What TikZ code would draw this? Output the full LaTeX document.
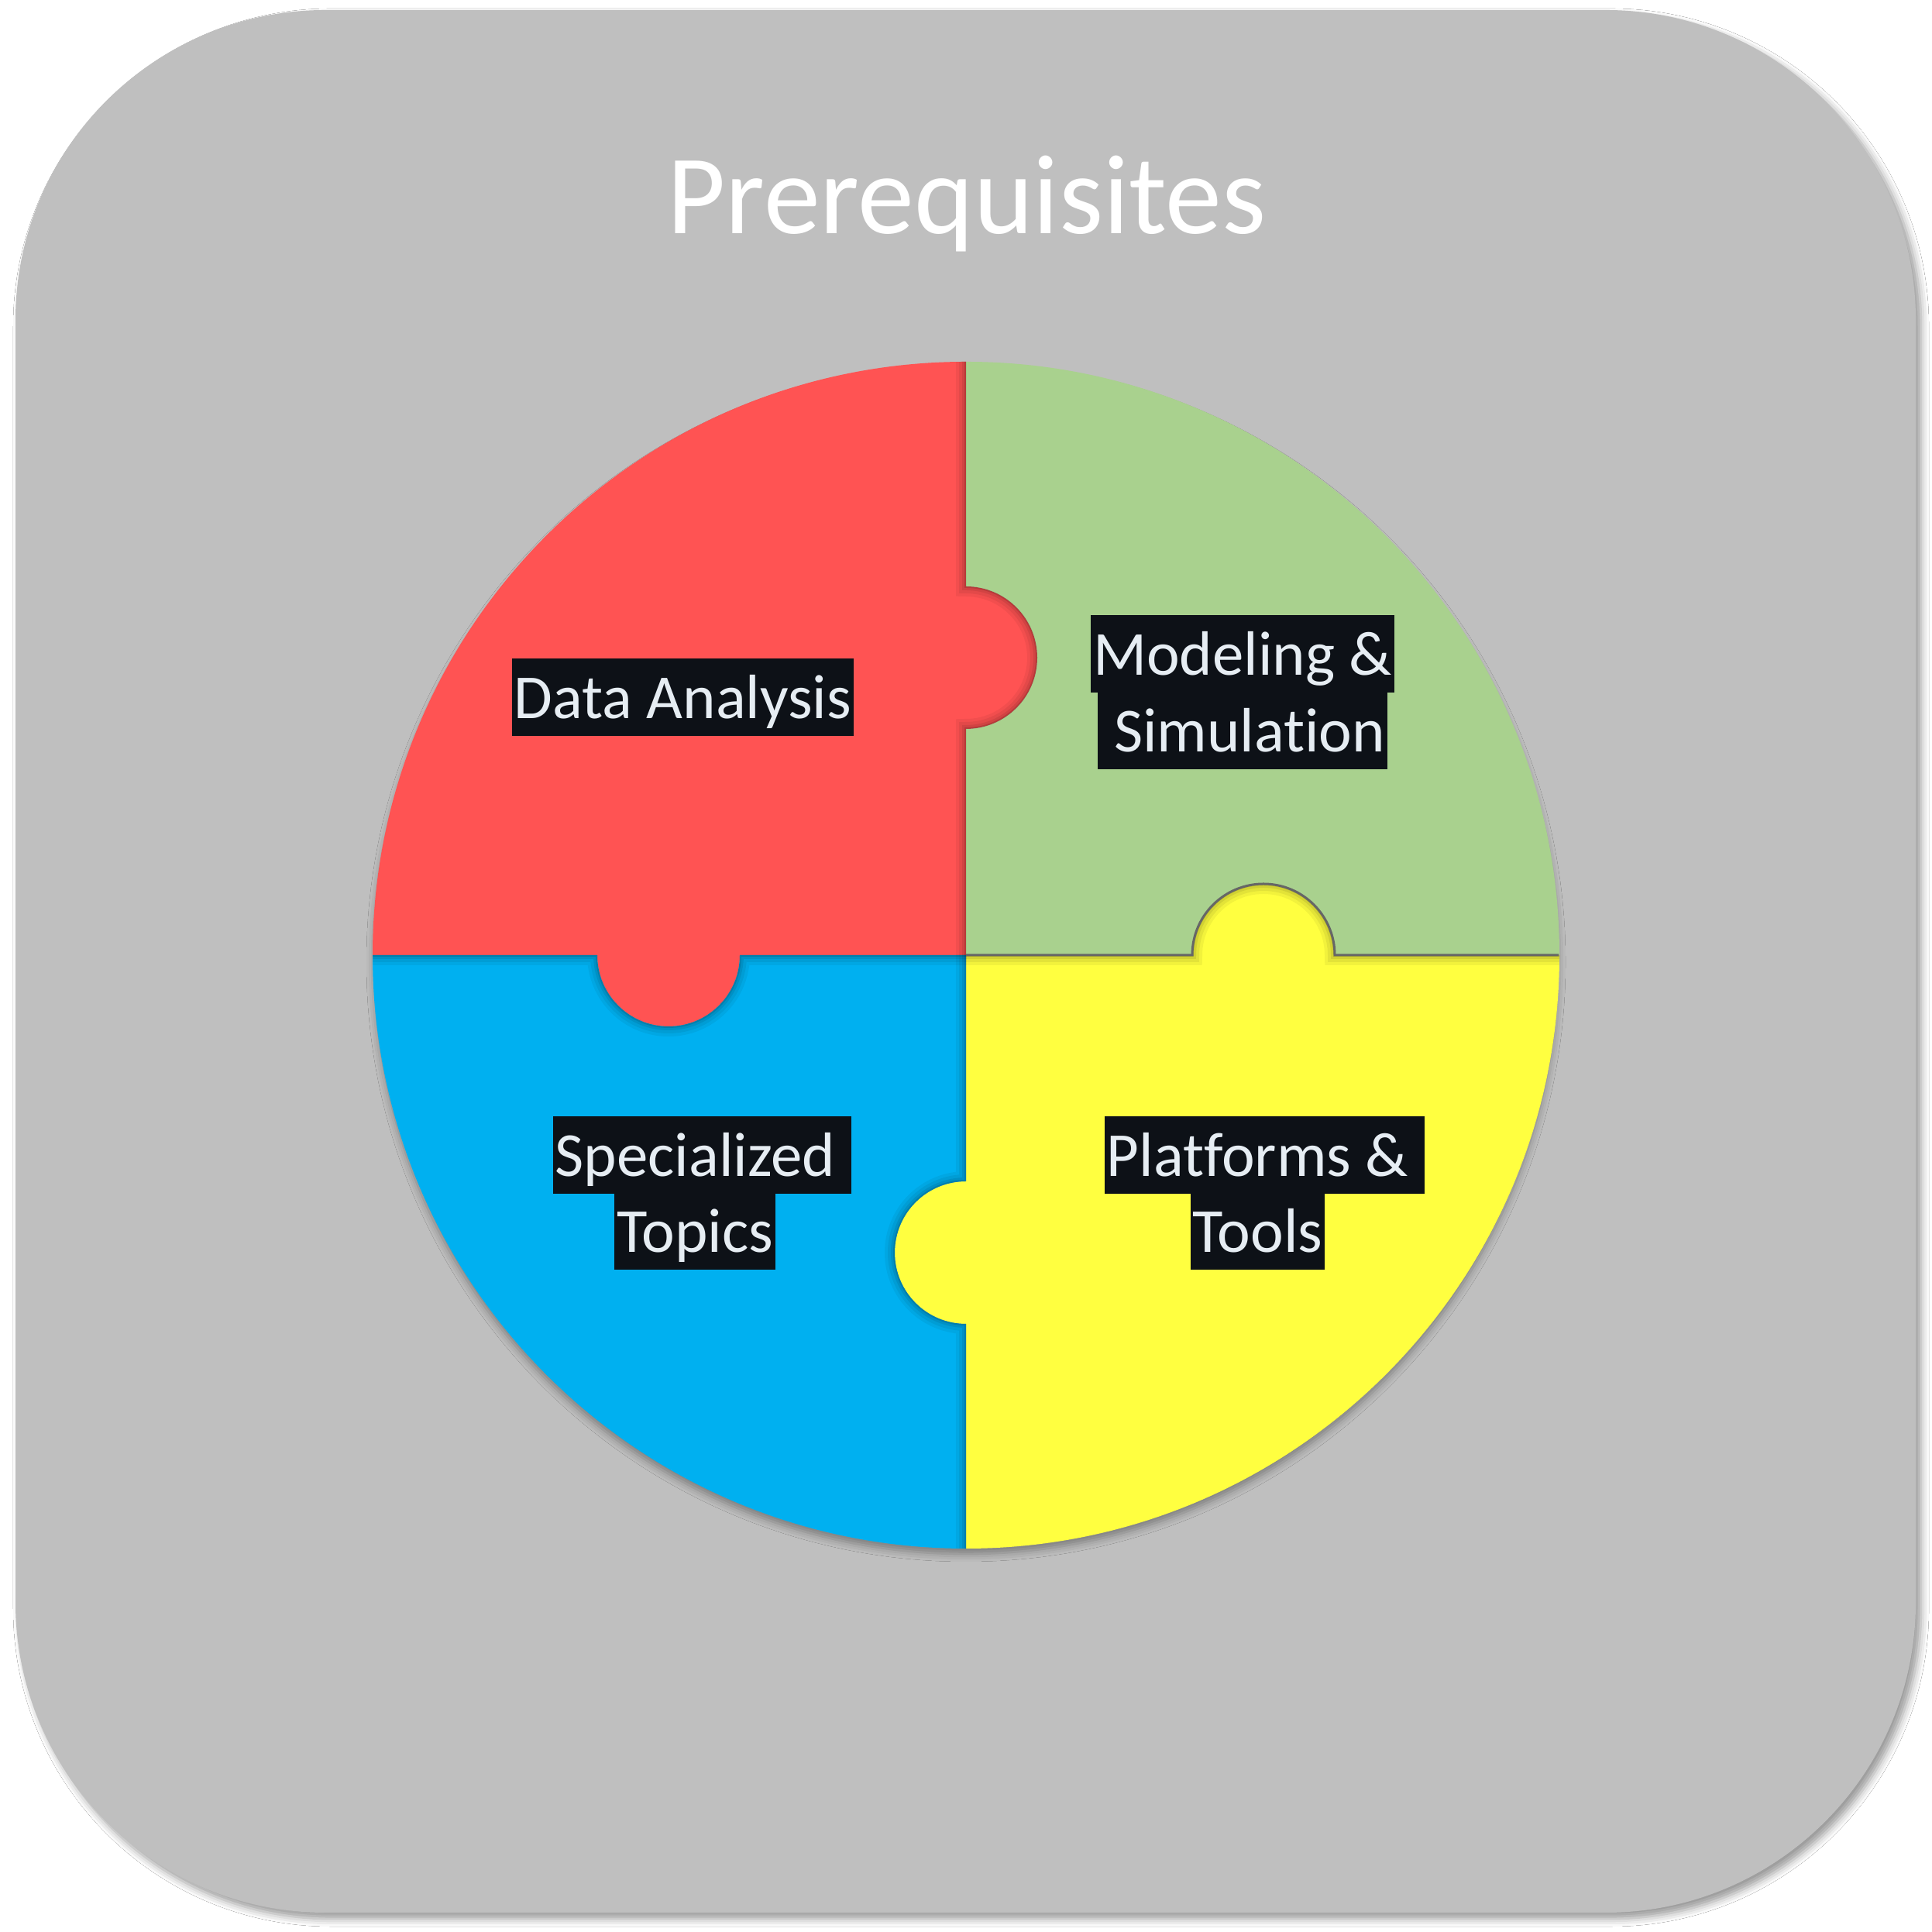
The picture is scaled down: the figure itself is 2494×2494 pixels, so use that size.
\documentclass[tikz,border=0pt]{standalone}
\usepackage{fontspec}
\setmainfont{Carlito}[Ligatures=NoCommon]
\usetikzlibrary{shadows.blur}

\definecolor{panelgray}{HTML}{BFBFBF}
\definecolor{piecered}{HTML}{FF5353}
\definecolor{piecegreen}{HTML}{A9D18E}
\definecolor{pieceblue}{HTML}{00B0F0}
\definecolor{pieceyellow}{HTML}{FFFF40}
\definecolor{labelbg}{HTML}{0D1117}
\definecolor{labelfg}{HTML}{E6EDF3}

% Puzzle geometry: centre (1247,1261), outer radius 766, tab radius 92, tab offset 384
\def\redshape{(1247,1261) -- (1247,1553) arc[start angle=-90,end angle=90,radius=92]
  -- (1247,2027) arc[start angle=90,end angle=180,radius=766]
  -- (771,1261) arc[start angle=180,end angle=360,radius=92] -- cycle}
\def\greenshape{(1247,1261) -- (1247,1553) arc[start angle=-90,end angle=90,radius=92]
  -- (1247,2027) arc[start angle=90,end angle=0,radius=766]
  -- (1723,1261) arc[start angle=0,end angle=180,radius=92] -- cycle}
\def\yellowshape{(1247,1261) -- (1539,1261) arc[start angle=180,end angle=0,radius=92]
  -- (2013,1261) arc[start angle=0,end angle=-90,radius=766]
  -- (1247,785) arc[start angle=-90,end angle=-270,radius=92] -- cycle}
\def\blueshape{(1247,1261) -- (955,1261) arc[start angle=0,end angle=-180,radius=92]
  -- (481,1261) arc[start angle=180,end angle=270,radius=766]
  -- (1247,785) arc[start angle=-90,end angle=-270,radius=92] -- cycle}

% Seams between the pieces (slightly overlong, always used under a clip)
\def\seamup{(1247,1261) -- (1247,1553) arc[start angle=-90,end angle=90,radius=92] -- (1247,2040)}
\def\seamdown{(1247,1261) -- (1247,969) arc[start angle=90,end angle=270,radius=92] -- (1247,480)}
\def\seamleft{(470,1261) -- (771,1261) arc[start angle=180,end angle=360,radius=92] -- (1247,1261)}
\def\seamright{(1247,1261) -- (1539,1261) arc[start angle=180,end angle=0,radius=92] -- (2030,1261)}
% the same seam, ending on the rim
\def\seamrightrim{(1247,1261) -- (1539,1261) arc[start angle=180,end angle=0,radius=92] -- (2012,1261)}

\tikzset{
  panel/.style={fill=panelgray, rounded corners=4cm,
    blur shadow={shadow xshift=0.07cm, shadow yshift=-0.08cm,
                 shadow blur radius=0.1cm, shadow opacity=40}},
  disc/.style={fill=panelgray,
    blur shadow={shadow xshift=0cm, shadow yshift=-0.09cm,
                 shadow blur radius=0.1cm, shadow opacity=35}},
  inshade/.style={draw=black, line cap=round},
  label/.style={fill=labelbg, text=labelfg, inner xsep=0.03cm, inner ysep=0pt,
    text height=0.78cm, text depth=0.22cm, anchor=base,
    font=\fontsize{23}{27}\selectfont},
  title/.style={text=white, anchor=base, font=\fontsize{41.5}{50}\selectfont}
}

\newcommand{\innershade}[2]{%
  \begin{scope}
    \clip #1;
    \draw[inshade, line width=0.26cm, opacity=0.05] #2;
    \draw[inshade, line width=0.18cm, opacity=0.06] #2;
    \draw[inshade, line width=0.10cm, opacity=0.08] #2;
    \draw[inshade, line width=0.04cm, opacity=0.12] #2;
  \end{scope}}

\begin{document}
\begin{tikzpicture}[x=0.01cm, y=0.01cm]
  \useasboundingbox (0,0) rectangle (2494,2494);
  \fill[white] (0,0) rectangle (2494,2494);

  % rounded panel
  \path[panel] (20,25) rectangle (2473,2481);

  % title
  \node[title] (title) at (1248,2192) {Prerequisites};

  % shadow under the disc
  \path[disc] (1247,1261) circle[radius=764];

  % the four pieces
  \fill[piecered] \redshape;
  \fill[piecegreen] \greenshape;
  \fill[pieceyellow] \yellowshape;
  \fill[pieceblue] \blueshape;

  % soft shading along the seams
  \innershade{\redshape}{\seamup}
  \innershade{\yellowshape}{\seamright}
  \innershade{\blueshape}{\seamdown}
  \innershade{\blueshape}{\seamleft}

  % dark edge where the yellow piece meets the green one
  \draw[black!60, line width=0.03cm] \seamrightrim;

  % labels
  \node[label] (data) at (881.5,1566) {Data Analysis};
  \node[label] (model1) at (1604,1622) {Modeling \&};
  \node[label] (model2) at (1604,1523) {\ Simulation};
  \node[label] (spec1) at (906.5,975) {Specialized\ \mbox{}};
  \node[label] (spec2) at (897,877) {Topics};
  \node[label] (plat1) at (1632.5,975) {Platforms \&\ \mbox{}};
  \node[label] (plat2) at (1623.5,877) {Tools};
\end{tikzpicture}
\end{document}
